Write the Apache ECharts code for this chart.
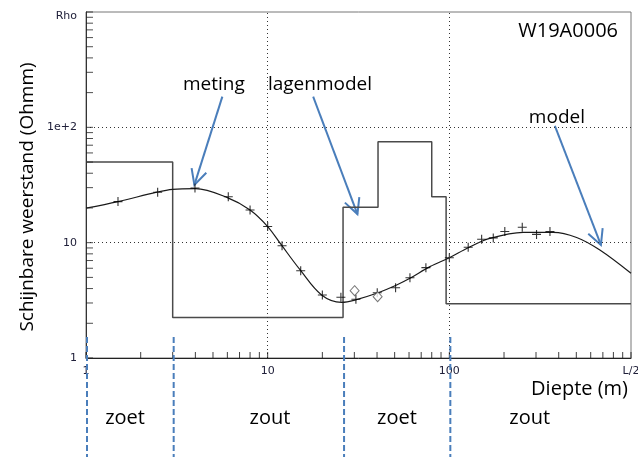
<!DOCTYPE html>
<html><head><meta charset="utf-8">
<script src="https://cdn.jsdelivr.net/npm/echarts@6/dist/echarts.min.js"></script>
<style>html,body{margin:0;padding:0;background:#fff}#c{width:638px;height:457px}</style>
</head><body><div id="c"></div><script>
// ---- tick labels ----
const xLabelValues = [1, 10, 100, 1000];
const xLabelTexts = ['1', '10', '100', 'L/2'];
const yLabelValues = [1, 10, 100, 1000];
const yLabelTexts = ['1', '10', '1e+2', 'Rho'];
const gridValues = [10, 100];

// ---- data (depth m, apparent resistivity Ohmm) ----
const layerModel = [[1,50],[3,50],[3,2.25],[26,2.25],[26,20.3],[40.5,20.3],[40.5,75],[80,75],[80,25],[96,25],[96,2.95],[1000,2.95]];
const modelCurve = [[1,19.9],[1.5,22.7],[2.45,27.4],[3,29],[4,29.4],[6,24.6],[8,19.2],[10,13.8],[11.9,9.55],[15.1,5.8],[19.8,3.52],[25.5,3.04],[30.2,3.18],[39.8,3.64],[51.3,4.3],[60.7,4.91],[78.2,6.2],[100,7.41],[127,9.05],[167,10.9],[255,12.3],[373,12.3],[502,11.1],[674,8.64],[1000,5.43]];
const measured = [[1.5,22.7],[2.48,27.4],[3.98,29.8],[6.07,25],[8,19.2],[10,13.8],[12,9.4],[15.2,5.7],[20,3.52],[25.3,3.36],[30.6,3.23],[40.1,3.68],[50.6,4.07],[60.7,4.97],[74.3,6.07],[100,7.41],[127,9.12],[150.6,10.7],[174.5,11.0],[202,12.5],[252,13.6],[302,11.8],[358,12.5]];
const rejected = [[30.1,3.83],[40.3,3.4]];

// ---- zones ----
const zoneBounds = [1, 3, 26, 100];
const zoneNames = ['zoet', 'zout', 'zoet', 'zout'];
const zoneCenters = [1.64, 10.3, 51.5, 277];

// ---- annotations (data coords) ----
const annoNames = ['meting', 'lagenmodel', 'model'];
const annoText = [[5.06,233],[19.4,233],[391,120.7]];
const annoFrom = [[5.63,184.6],[17.8,184.6],[381,102.8]];
const annoTo = [[3.95,31.7],[31.2,17.7],[683,9.55]];

function decadeTicks(a, b) { const t = []; for (let d = a; d < b; d *= 10) for (let k = 1; k < 10; k++) t.push(d * k); t.push(b); return t; }
const tickValues = decadeTicks(1, 1000);

const chart = echarts.init(document.getElementById('c'), null, {renderer: 'canvas'});
const labelFont = {fontFamily: 'DejaVu Sans', fontSize: 11, color: '#20203a'};
chart.setOption({
  animation: false,
  backgroundColor: '#fff',
  grid: {left: 86, right: 7, top: 12, bottom: 99, show: true, borderColor: '#777', borderWidth: 1,
    containLabel: false, outerBoundsMode: 'none'},
  xAxis: {
    type: 'log', logBase: 10, min: 1, max: 1000,
    axisLine: {show: true, lineStyle: {color: '#222', width: 1}},
    axisTick: {show: false},
    axisLabel: Object.assign({margin: 8, customValues: xLabelValues, showMinLabel: true, showMaxLabel: true, hideOverlap: false,
      formatter: v => { const i = xLabelValues.findIndex(x => Math.abs(x - v) / x < 1e-6); return i >= 0 ? xLabelTexts[i] : ''; }}, labelFont),
    splitLine: {show: false}
  },
  yAxis: {
    type: 'log', logBase: 10, min: 1, max: 1000,
    axisLine: {show: true, lineStyle: {color: '#333', width: 1}},
    axisTick: {show: false},
    axisLabel: Object.assign({margin: 9, customValues: yLabelValues, showMinLabel: true, showMaxLabel: true, hideOverlap: false,
      formatter: v => { const i = yLabelValues.findIndex(x => Math.abs(x - v) / x < 1e-6); if (i < 0) return ''; return i === yLabelValues.length - 1 ? '{top|' + yLabelTexts[i] + '}' : yLabelTexts[i]; },
      rich: {top: {padding: [8, 0, 0, 0], fontFamily: 'DejaVu Sans', fontSize: 11, color: '#20203a'}}}, labelFont),
    splitLine: {show: false}
  },
  series: [
    {type: 'line', data: layerModel, showSymbol: false, symbol: 'none', lineStyle: {color: '#4a4a4a', width: 1.5}, z: 2,
      markLine: {silent: true, symbol: 'none', label: {show: false}, animation: false,
        lineStyle: {color: '#333', type: [1, 3], width: 1},
        data: gridValues.map(v => ({xAxis: v})).concat(gridValues.map(v => ({yAxis: v})))}},
    {type: 'line', data: modelCurve, smooth: 0.35, symbol: 'none', lineStyle: {color: '#1a1a1a', width: 1.2}, z: 3},
    {type: 'scatter', data: measured, symbol: 'path://M0,5H10M5,0V10', symbolSize: 9,
      itemStyle: {color: 'none', borderColor: '#000', borderWidth: 1.1}, z: 4},
    {type: 'scatter', data: rejected, symbol: 'diamond', symbolSize: [9, 10],
      itemStyle: {color: '#fff', borderColor: '#555', borderWidth: 1}, z: 4},
    // inside axis ticks (1..9 per decade)
    {type: 'scatter', silent: true, clip: false, data: tickValues.map(v => [v, 1]), symbol: 'rect', symbolSize: [1, 6], symbolOffset: [0, -3],
      itemStyle: {color: '#111'}, z: 5},
    {type: 'scatter', silent: true, clip: false, data: tickValues.map(v => [1, v]), symbol: 'rect', symbolSize: [7, 1], symbolOffset: [3.5, 0],
      itemStyle: {color: '#222'}, z: 5}
  ]
});

const big = {fontFamily: 'Open Sans', fontSize: 19, fill: '#000'};
const blue = '#4A7EBB';
const g = [];
g.push({type: 'text', x: 28, y: 197, rotation: Math.PI / 2,
  style: Object.assign({text: 'Schijnbare weerstand (Ohmm)', align: 'center', verticalAlign: 'middle'}, big)});
g.push({type: 'text', x: 628, y: 389, style: Object.assign({text: 'Diepte (m)', align: 'right', verticalAlign: 'middle'}, big, {fontSize: 20})});
g.push({type: 'text', x: 618, y: 31, style: Object.assign({text: 'W19A0006', align: 'right', verticalAlign: 'middle'}, big, {fontSize: 20})});
zoneBounds.forEach(b => {
  const px = chart.convertToPixel({gridIndex: 0}, [b, 1])[0] + 1;
  g.push({type: 'line', z: 11, shape: {x1: px, y1: 337, x2: px, y2: 457}, style: {stroke: blue, lineWidth: 2, lineDash: [6, 3]}});
});
zoneNames.forEach((n, i) => {
  const px = chart.convertToPixel({gridIndex: 0}, [zoneCenters[i], 1])[0];
  g.push({type: 'text', x: px, y: 418, style: Object.assign({text: n, align: 'center', verticalAlign: 'middle'}, big, {fontSize: 20})});
});
annoNames.forEach((n, i) => {
  const t = chart.convertToPixel({gridIndex: 0}, annoText[i]);
  const a = chart.convertToPixel({gridIndex: 0}, annoFrom[i]);
  const b = chart.convertToPixel({gridIndex: 0}, annoTo[i]);
  g.push({type: 'text', x: t[0], y: t[1], style: Object.assign({text: n, align: 'center', verticalAlign: 'middle'}, big)});
  g.push({type: 'line', shape: {x1: a[0], y1: a[1], x2: b[0], y2: b[1]}, style: {stroke: blue, lineWidth: 2}});
  const dx = b[0] - a[0], dy = b[1] - a[1], L = Math.hypot(dx, dy), ux = dx / L, uy = dy / L;
  const th = 27 * Math.PI / 180, len = 17;
  const w = s => [b[0] - len * (ux * Math.cos(s * th) - uy * Math.sin(s * th)), b[1] - len * (ux * Math.sin(s * th) + uy * Math.cos(s * th))];
  g.push({type: 'polyline', shape: {points: [w(1), [b[0], b[1]], w(-1)]}, style: {stroke: blue, lineWidth: 2, fill: null}});
});
chart.setOption({graphic: g});
</script></body></html>
